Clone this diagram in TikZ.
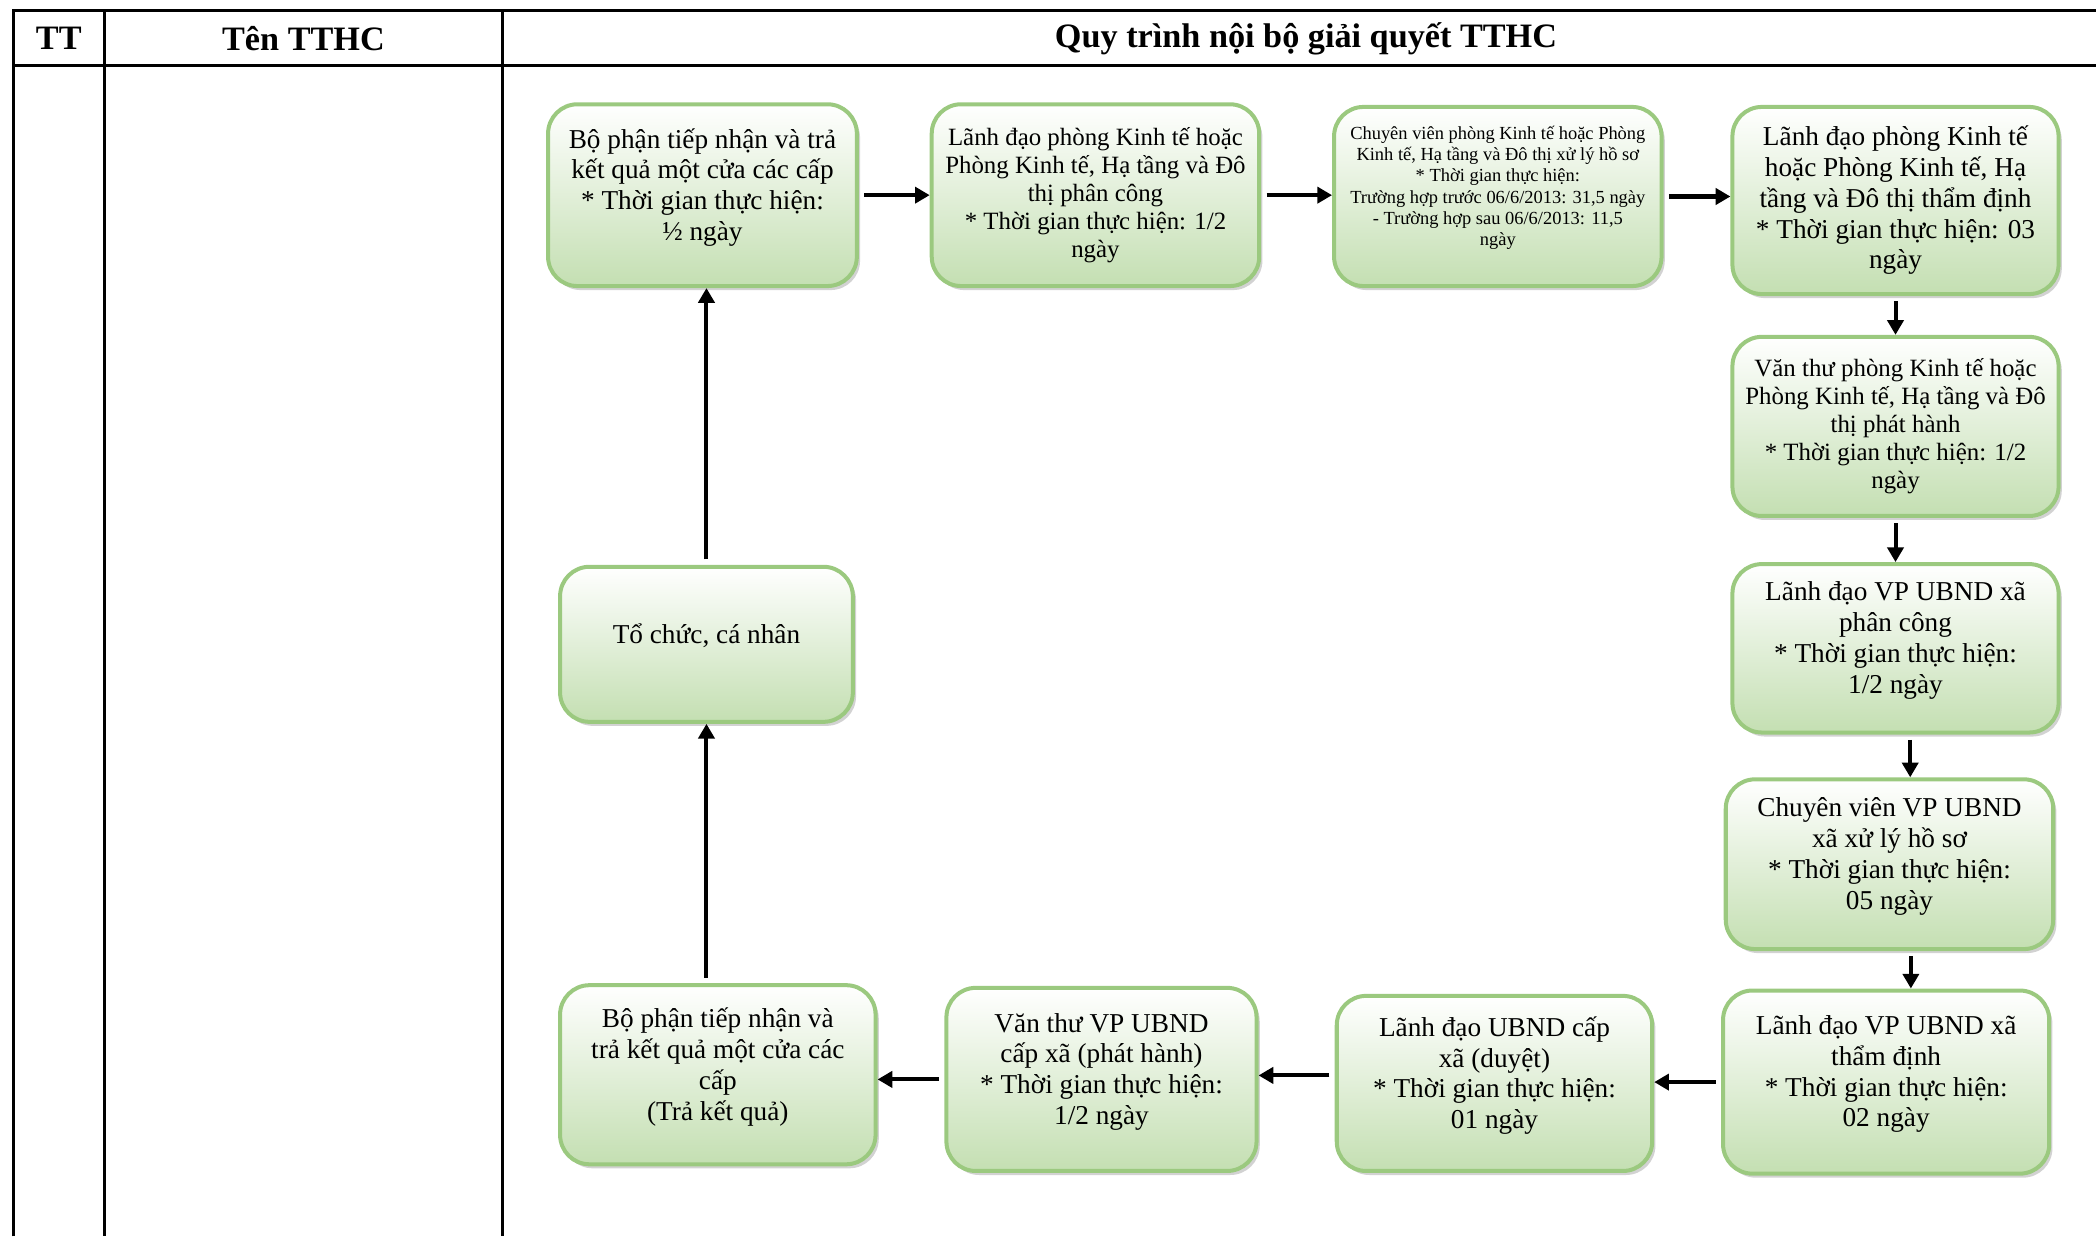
\documentclass[tikz,border=0pt]{standalone}
\usepackage{fontspec}
\setmainfont{Liberation Serif}
\usetikzlibrary{arrows.meta,shadows,calc}
\definecolor{boxborder}{RGB}{155,201,127}
\definecolor{boxbottom}{RGB}{196,223,178}
\newcommand\boxpad{\rule[-8pt]{0pt}{0pt}}
\begin{document}
\begin{tikzpicture}[x=0.5pt,y=-0.5pt,
  flowbox/.style={draw=boxborder, line width=1.5pt, rounded corners=11pt,
    top color=white, bottom color=boxbottom, align=center, inner sep=2pt,
    drop shadow={shadow xshift=1.2pt, shadow yshift=-1.5pt, fill=black!35}},
  big/.style={font=\fontsize{10.2}{11.5}\selectfont},
  mid/.style={font=\fontsize{9.3}{10.5}\selectfont},
  small/.style={font=\fontsize{6.9}{8}\selectfont},
  flow/.style={line width=1.5pt, shorten <=2pt, -{Triangle[length=5.5pt,width=6pt]}},
  grid/.style={line width=1pt},
  head/.style={font=\fontsize{12.8}{14}\selectfont\bfseries}
]
\useasboundingbox (0,0) rectangle (1568,925);

% table
\draw[grid] (10,925) -- (10,8) -- (1568,8);
\draw[grid] (10,49) -- (1568,49);
\draw[grid] (78,8) -- (78,925);
\draw[grid] (376,8) -- (376,925);
\node[head] (h1) at (44,29) {TT};
\node[head] (h2) at (227,29) {Tên TTHC};
\node[head] (h3) at (977,29) {Quy trình nội bộ giải quyết TTHC};

% boxes
\node[flowbox,big,minimum width=115.5pt,minimum height=68pt] (b1) at (525.5,146)
  {Bộ phận tiếp nhận và trả\\ kết quả một cửa các cấp\\ * Thời gian thực hiện:\\ ½ ngày\boxpad};
\node[flowbox,mid,minimum width=122.5pt,minimum height=68pt] (b2) at (819.5,146)
  {Lãnh đạo phòng Kinh tế hoặc\\ Phòng Kinh tế, Hạ tầng và Đô\\ thị phân công\\ * Thời gian thực hiện: 1/2\\ ngày};
\node[flowbox,small,minimum width=122.5pt,minimum height=67pt] (b3) at (1120.5,147)
  {Chuyên viên phòng Kinh tế hoặc Phòng\\ Kinh tế, Hạ tầng và Đô thị xử lý hồ sơ\\ * Thời gian thực hiện:\\ Trường hợp trước 06/6/2013: 31,5 ngày\\ - Trường hợp sau 06/6/2013: 11,5\\ ngày\boxpad};
\node[flowbox,big,minimum width=122pt,minimum height=70pt] (b4) at (1418,150)
  {Lãnh đạo phòng Kinh tế\\ hoặc Phòng Kinh tế, Hạ\\ tầng và Đô thị thẩm định\\ * Thời gian thực hiện: 03\\ ngày};
\node[flowbox,mid,minimum width=122pt,minimum height=67pt] (b5) at (1418,319)
  {Văn thư phòng Kinh tế hoặc\\ Phòng Kinh tế, Hạ tầng và Đô\\ thị phát hành\\ * Thời gian thực hiện: 1/2\\ ngày};
\node[flowbox,big,minimum width=122pt,minimum height=63pt] (b6) at (1418,485)
  {Lãnh đạo VP UBND xã\\ phân công\\ * Thời gian thực hiện:\\ 1/2 ngày\boxpad};
\node[flowbox,big,minimum width=122.5pt,minimum height=63.5pt] (b7) at (1413.5,646.5)
  {Chuyên viên VP UBND\\ xã xử lý hồ sơ\\ * Thời gian thực hiện:\\ 05 ngày\boxpad};
\node[flowbox,big,minimum width=122pt,minimum height=68.5pt] (b8) at (1411,809.5)
  {Lãnh đạo VP UBND xã\\ thẩm định\\ * Thời gian thực hiện:\\ 02 ngày\boxpad};
\node[flowbox,big,minimum width=118pt,minimum height=65.5pt] (b9) at (1118,810.5)
  {Lãnh đạo UBND cấp\\ xã (duyệt)\\ * Thời gian thực hiện:\\ 01 ngày\boxpad};
\node[flowbox,big,minimum width=116pt,minimum height=68.5pt] (b10) at (824,807.5)
  {Văn thư VP UBND\\ cấp xã (phát hành)\\ * Thời gian thực hiện:\\ 1/2 ngày\boxpad};
\node[flowbox,big,minimum width=118pt,minimum height=67pt] (b11) at (537,804)
  {Bộ phận tiếp nhận và\\ trả kết quả một cửa các\\ cấp\\ (Trả kết quả)\boxpad};
\node[flowbox,big,minimum width=109.5pt,minimum height=58pt] (b12) at (528.5,482)
  {Tổ chức, cá nhân\boxpad};

% connectors
\draw[flow] (b1.east) -- (b2.west);
\draw[flow] (b2.east) -- (b2.east -| b3.west);
\draw[flow] (b3.east) -- (b3.east -| b4.west);
\draw[flow] (b4.south) -- (b4.south |- b5.north);
\draw[flow] (b5.south) -- (b5.south |- b6.north);
\draw[flow] ([xshift=5.5pt]b6.south) -- ([xshift=5.5pt]b6.south |- b7.north);
\draw[flow] ([xshift=8pt]b7.south) -- ([xshift=8pt]b7.south |- b8.north);
\draw[flow] (b8.west) -- (b8.west -| b9.east);
\draw[flow] ([yshift=3pt]b9.west) -- ([yshift=3pt]b9.west -| b10.east);
\draw[flow] (b10.west) -- (b10.west -| b11.east);
\draw[flow] (b11.north -| b12.south) -- (b12.south);
\draw[flow] (b12.north) -- (b12.north |- b1.south);
\end{tikzpicture}
\end{document}
